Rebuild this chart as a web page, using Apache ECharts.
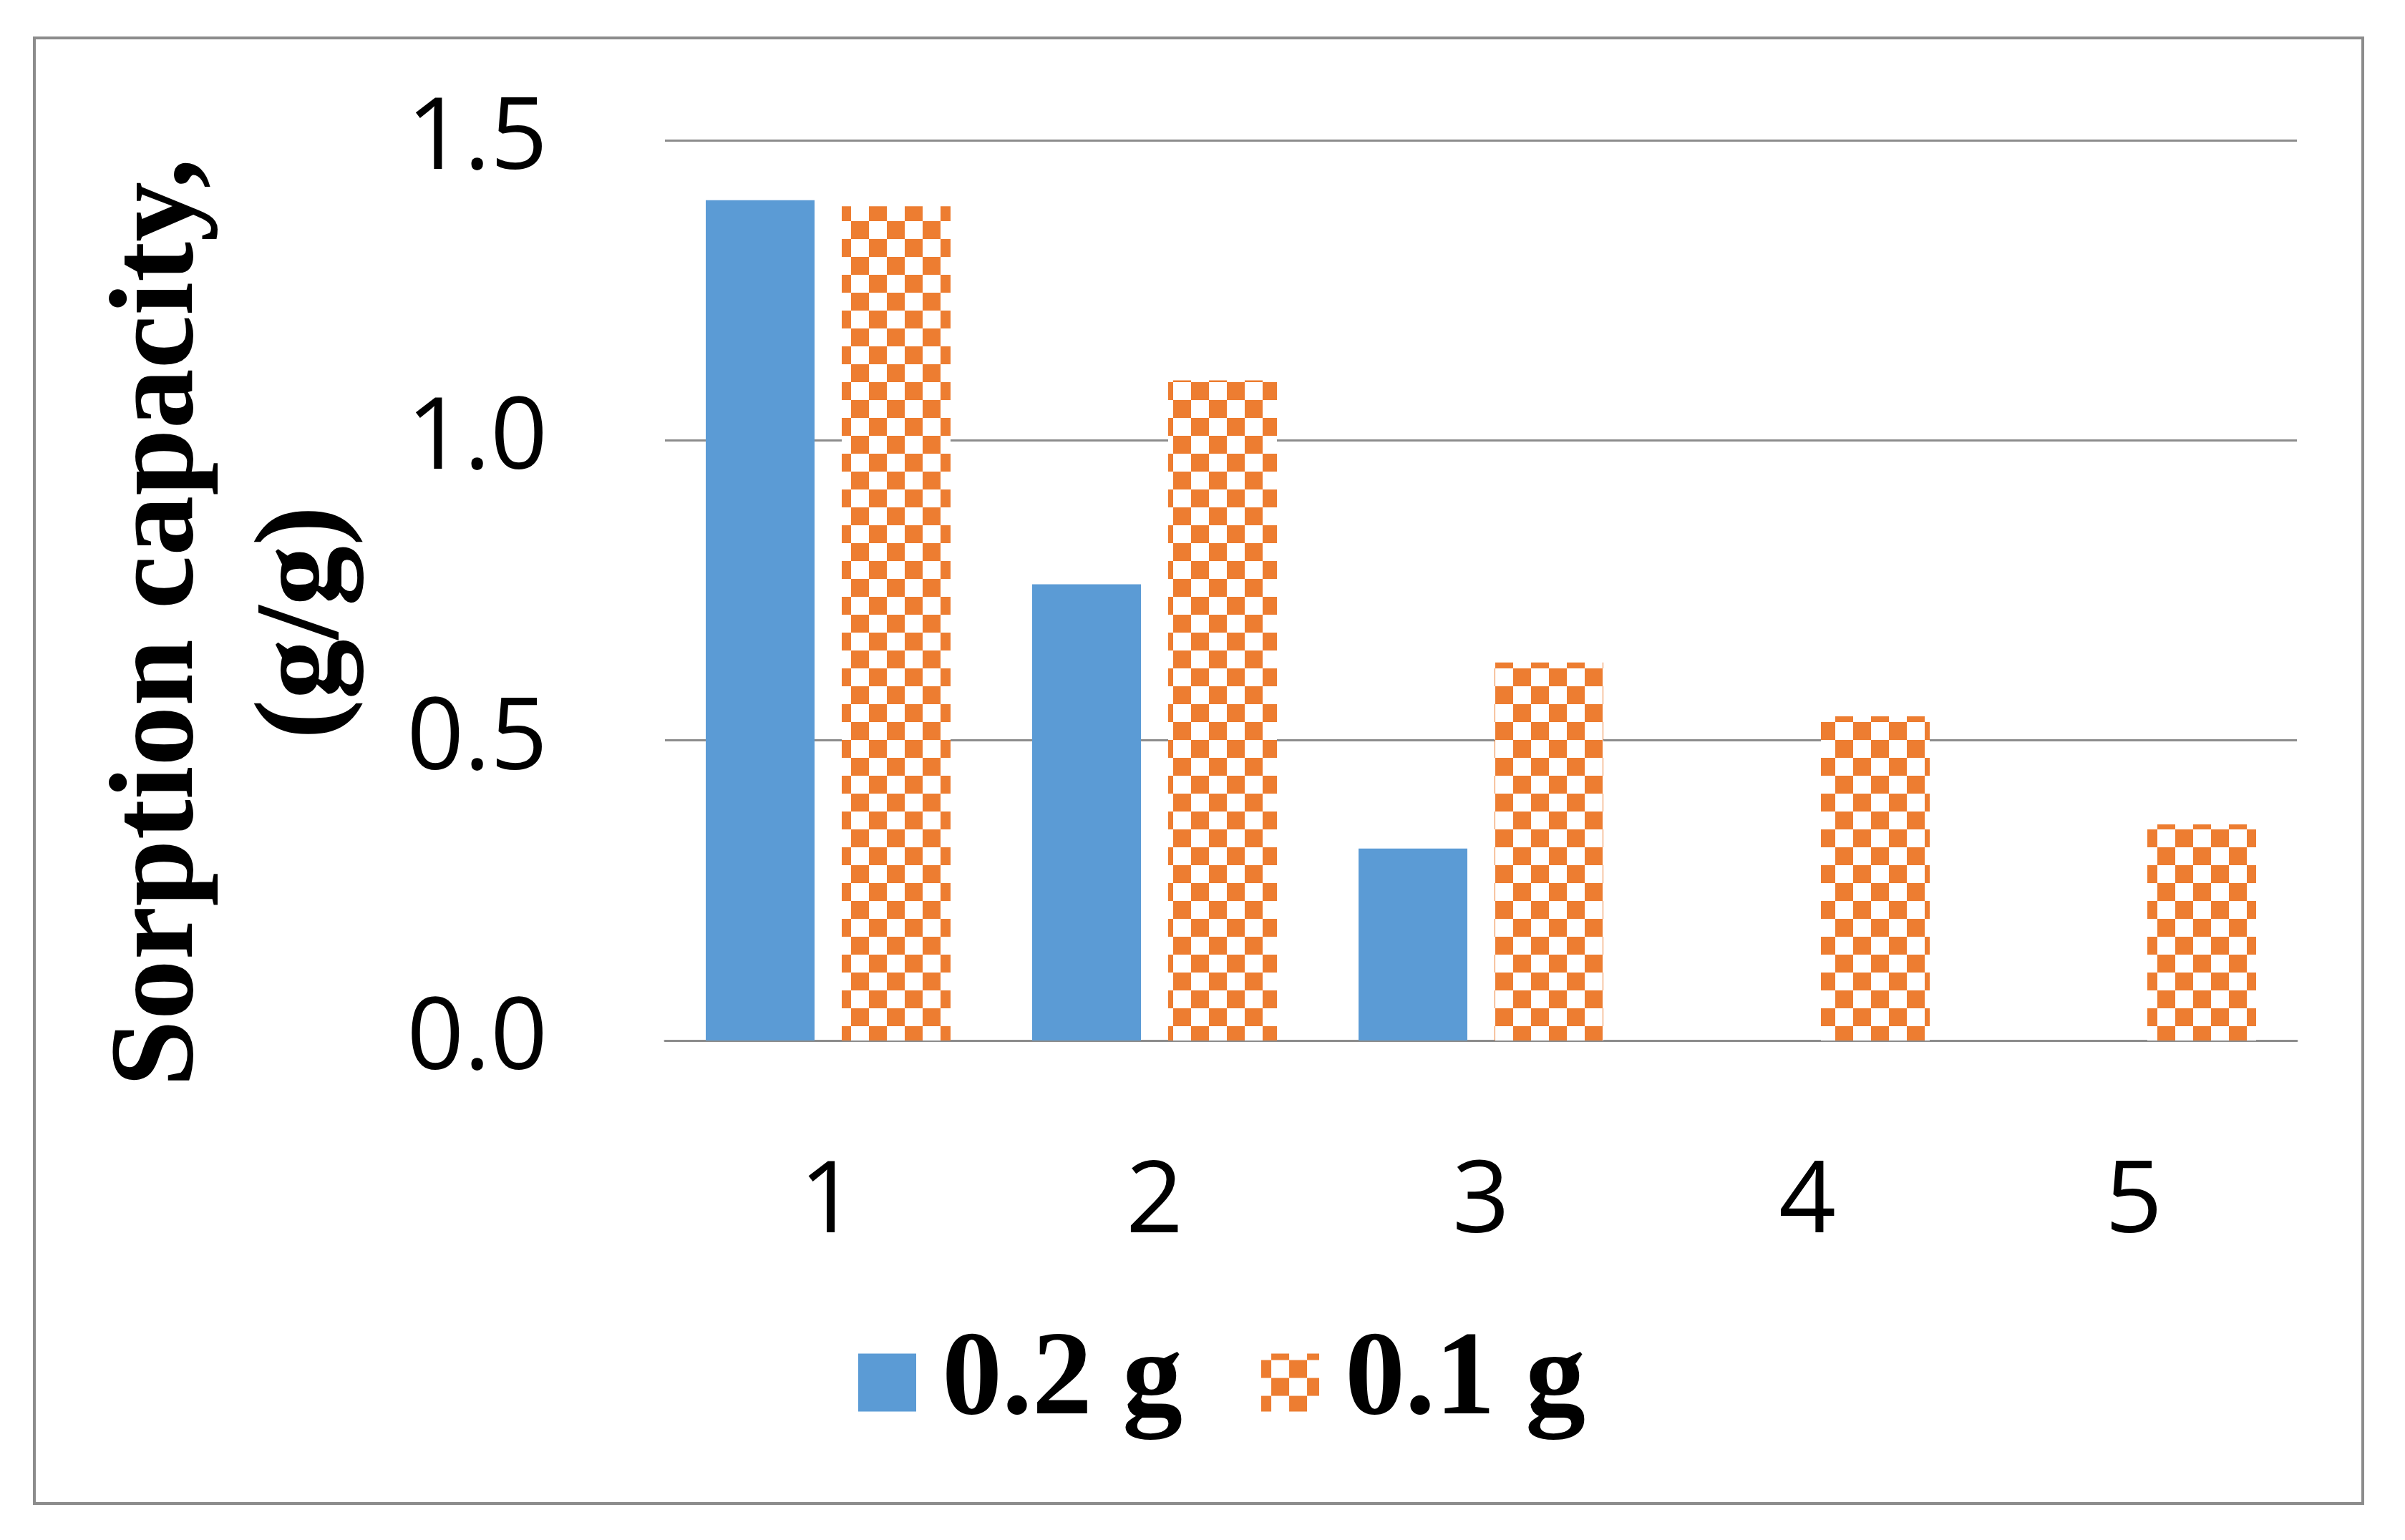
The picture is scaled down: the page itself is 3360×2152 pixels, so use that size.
<!DOCTYPE html>
<html>
<head>
<meta charset="utf-8">
<script src="https://cdn.jsdelivr.net/npm/echarts@6/dist/echarts.min.js"></script>
<style>
html,body{margin:0;padding:0;background:#fff;}
#chart{width:3360px;height:2152px;}
</style>
</head>
<body>
<div id="chart"></div>
<script>
// ---- data ----
const categories = ['1', '2', '3', '4', '5'];
const seriesNames = ['0.2 g', '0.1 g'];
const values02 = [1.40, 0.76, 0.32, null, null];
const values01 = [1.39, 1.10, 0.63, 0.54, 0.36];
const yMin = 0, yMax = 1.5, yInterval = 0.5;
const yAxisTitle = 'Sorption capacity,\n(g/g)';

// ---- checkerboard pattern ----
const BLUE = '#5B9BD5';
const ORANGE = '#ED7D31';
function makeChecker() {
  const c = document.createElement('canvas');
  c.width = 50; c.height = 50;
  const ctx = c.getContext('2d');
  ctx.fillStyle = '#ffffff';
  ctx.fillRect(0, 0, 50, 50);
  ctx.fillStyle = ORANGE;
  for (let i = -1; i <= 2; i++) {
    for (let j = -1; j <= 2; j++) {
      if (((i + j) % 2 + 2) % 2 === 1) {
        ctx.fillRect(14 + 25 * i, 9 + 25 * j, 25, 25);
      }
    }
  }
  return c;
}
const checker = makeChecker();

const chart = echarts.init(document.getElementById('chart'), null, {renderer: 'canvas'});
const GRAY = '#8c8c8c';
const tickFont = {fontFamily: 'Open Sans', fontSize: 140, color: '#000'};

chart.setOption({
  backgroundColor: '#ffffff',
  animation: false,
  graphic: [{
    type: 'rect',
    shape: {x: 48, y: 53, width: 3253, height: 2048},
    style: {fill: 'none', stroke: GRAY, lineWidth: 4},
    silent: true
  }],
  grid: {left: 929, right: 151, top: 196, bottom: 698, containLabel: false},
  legend: {
    data: seriesNames,
    left: 1194,
    top: 1843,
    itemWidth: 81,
    itemHeight: 81,
    itemGap: 110,
    icon: 'rect',
    textStyle: {
      fontFamily: 'Liberation Serif',
      fontWeight: 'bold',
      fontSize: 168,
      color: '#000',
      padding: [0, 0, 0, 31]
    }
  },
  xAxis: {
    type: 'category',
    data: categories,
    axisLine: {show: true, lineStyle: {color: GRAY, width: 3}},
    axisTick: {show: false},
    axisLabel: Object.assign({margin: 158}, tickFont),
    splitLine: {show: false}
  },
  yAxis: {
    type: 'value',
    min: yMin,
    max: yMax,
    interval: yInterval,
    name: yAxisTitle,
    nameLocation: 'middle',
    nameRotate: 90,
    nameGap: 400,
    nameTextStyle: {
      fontFamily: 'Liberation Serif',
      fontWeight: 'bold',
      fontSize: 168,
      lineHeight: 203,
      color: '#000',
      padding: [0, 90, 0, 0]
    },
    axisLine: {show: false},
    axisTick: {show: false},
    axisLabel: Object.assign({margin: 164, formatter: v => v.toFixed(1)}, tickFont),
    splitLine: {show: true, lineStyle: {color: GRAY, width: 3}}
  },
  series: [
    {
      name: seriesNames[0],
      type: 'bar',
      data: values02,
      barGap: '25%',
      barCategoryGap: '25%',
      itemStyle: {color: BLUE}
    },
    {
      name: seriesNames[1],
      type: 'bar',
      data: values01,
      barGap: '25%',
      barCategoryGap: '25%',
      itemStyle: {color: {image: checker, repeat: 'repeat'}}
    }
  ]
});
</script>
</body>
</html>
